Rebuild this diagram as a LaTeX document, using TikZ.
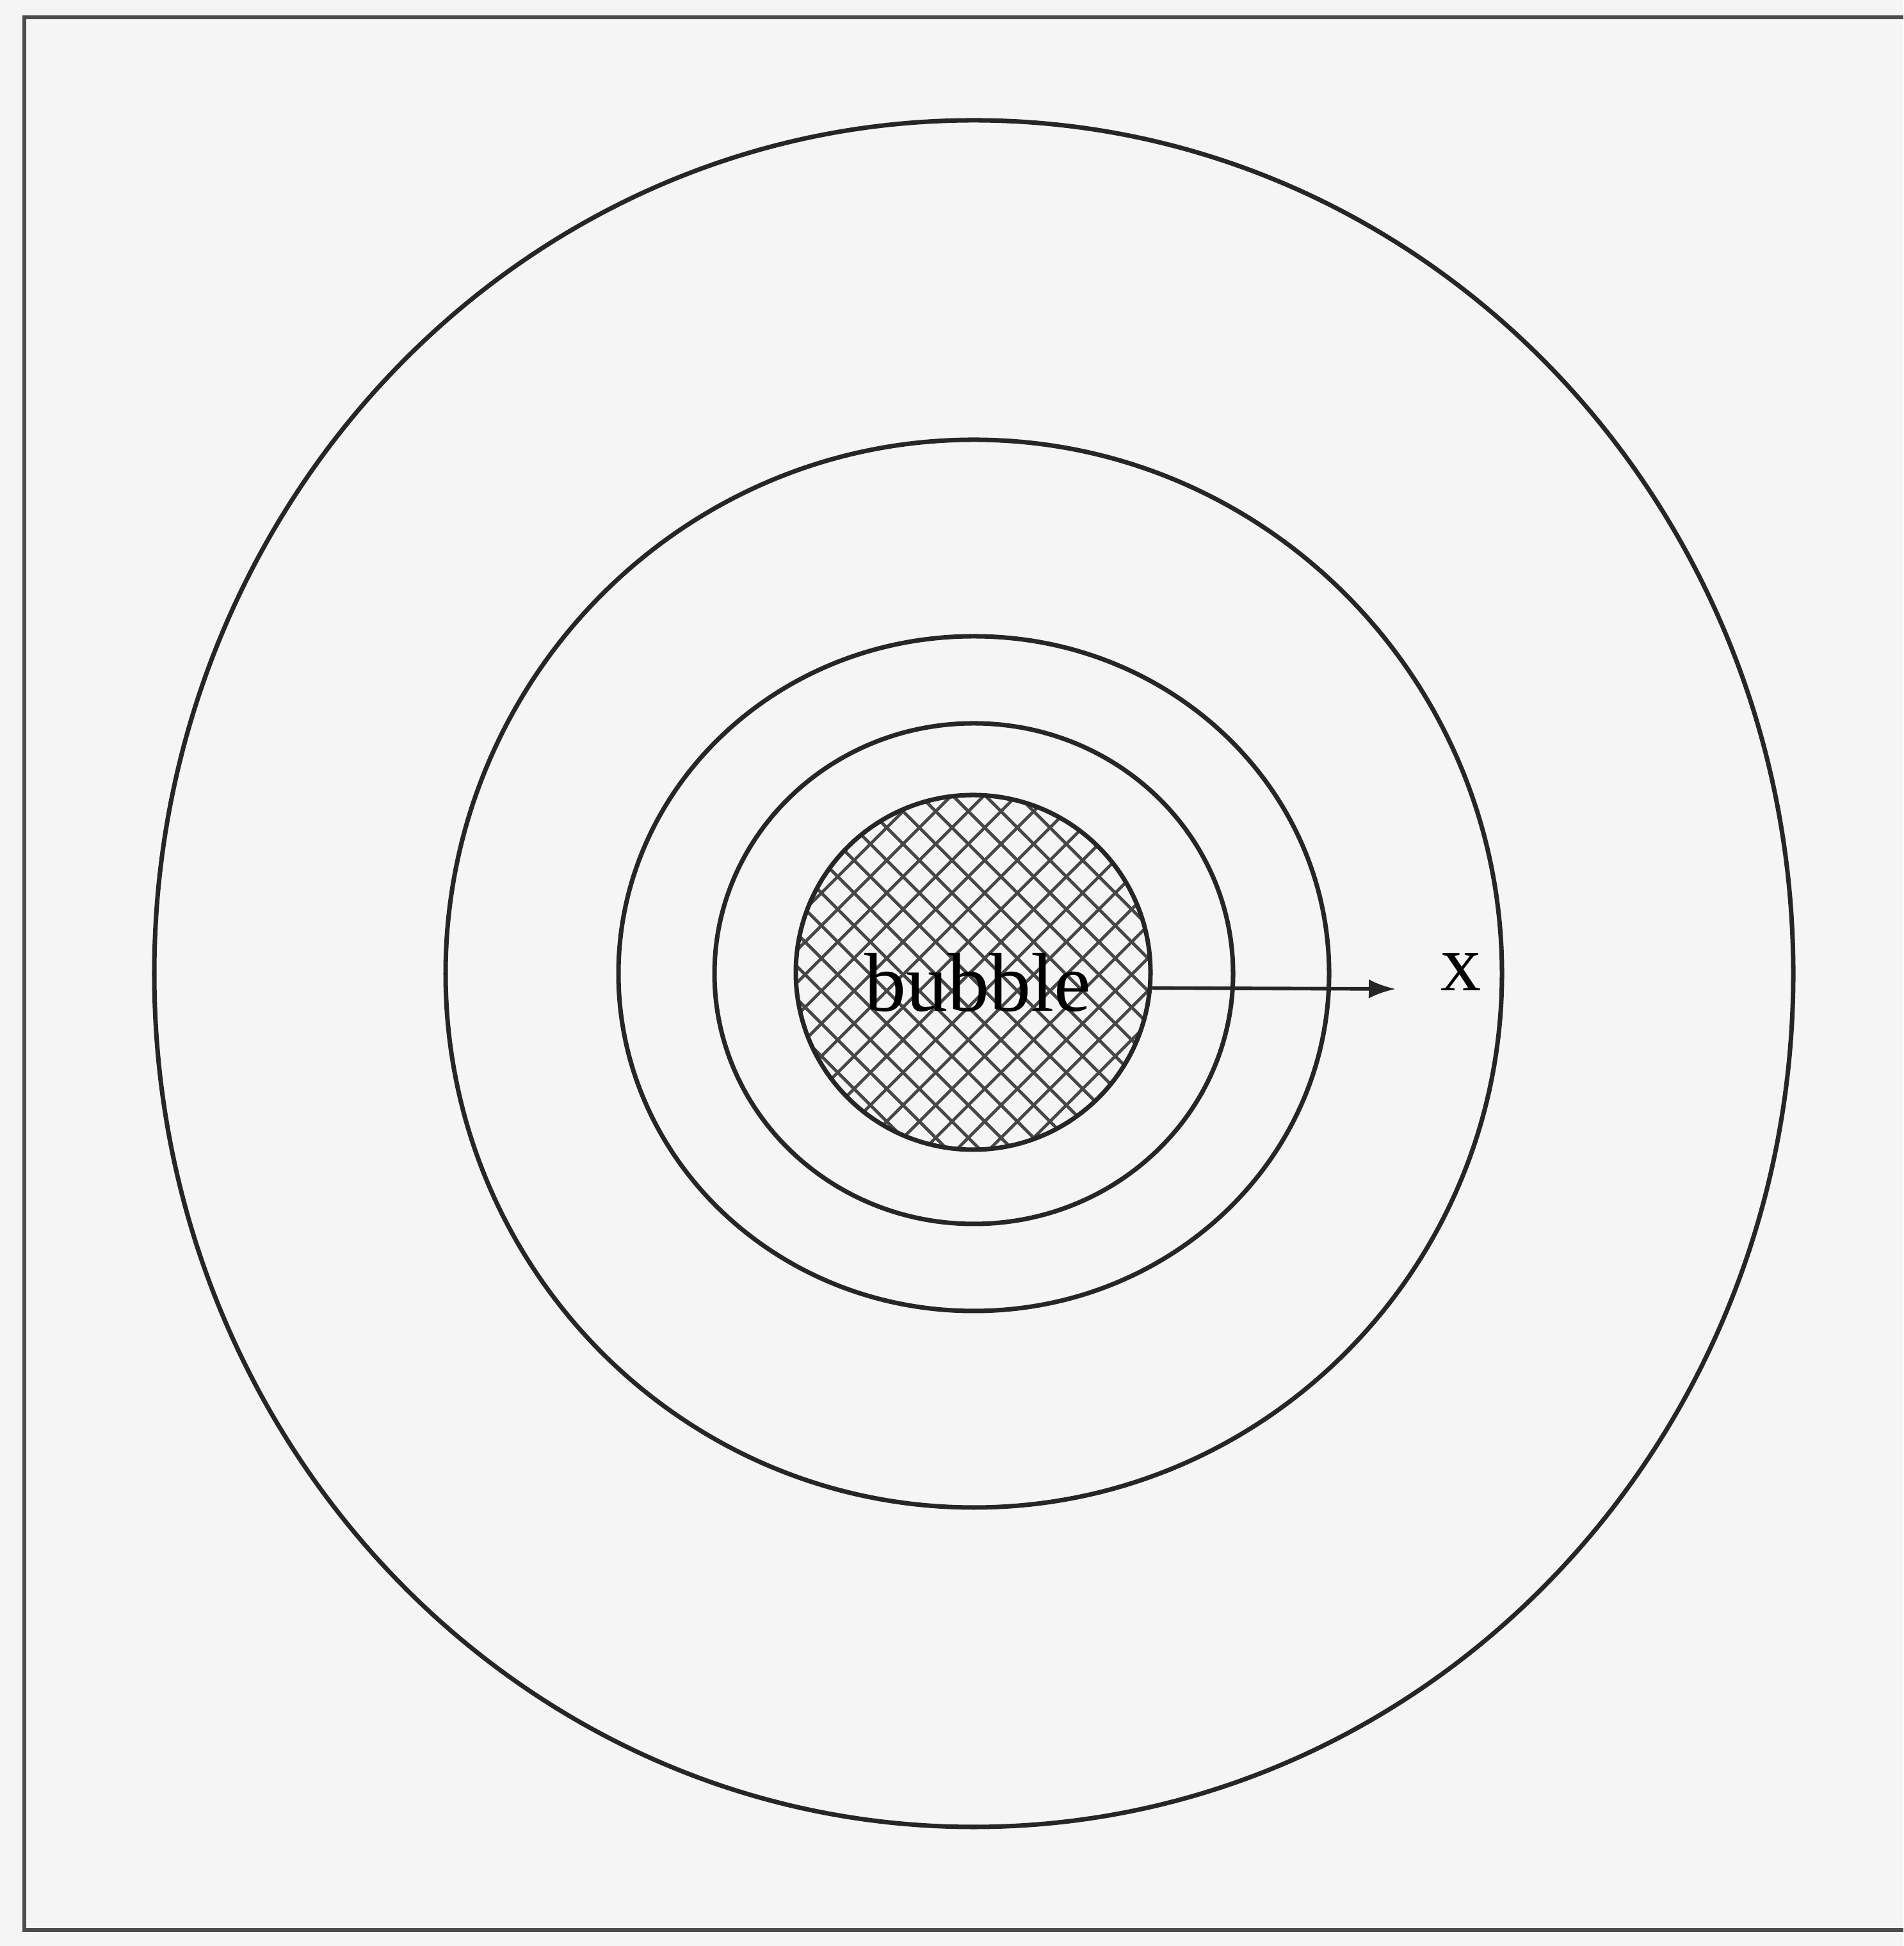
\documentclass[tikz,border=0pt]{standalone}
\usepackage{fontspec}
\setmainfont{Liberation Serif}
\usetikzlibrary{calc,positioning,arrows.meta}

\tikzset{
  ring/.style={draw=black!85, line width=2pt},
  hatchline/.style={draw=black!72, line width=1.4pt},
  bubblenode/.style={circle, draw=black!85, line width=2pt, minimum size=5.54cm,
    inner sep=0pt, font=\fontsize{37}{40}\selectfont},
  labeltext/.style={inner sep=0pt, font=\fontsize{36}{40}\selectfont},
}

\begin{document}
\begin{tikzpicture}
  \fill[black!4] (0,0) rectangle (29.73,30.40);
  \useasboundingbox (0,0) rectangle (29.73,30.40);

  \draw[line width=1.8pt, black!70] (29.73,30.13) -- (0.38,30.13) -- (0.38,0.25) -- (29.73,0.25);

  \coordinate (c) at (15.21,15.19);
  \draw[ring] (c) ellipse [x radius=12.80, y radius=13.33];
  \draw[ring] (c) ellipse [x radius=8.25, y radius=8.34];
  \draw[ring] (c) ellipse [x radius=5.55, y radius=5.27];
  \draw[ring] (c) ellipse [x radius=4.05, y radius=3.91];

  \node[bubblenode,
    path picture={
      \foreach \k in {-9,...,9}{
        \draw[hatchline] ($(path picture bounding box.center)+(\k*0.51-0.04,0)+(-4,-4)$) -- ++(8,8);
        \draw[hatchline] ($(path picture bounding box.center)+(\k*0.51-0.11,0)+(-4,4)$) -- ++(8,-8);
      }
    }] (bubble) at (15.20,15.21) {};
  \node[font=\fontsize{37}{40}\selectfont, inner sep=0pt, anchor=base] (bubbletext) at (15.27,14.60) {bubble};

  \coordinate (tip) at (21.80,14.95);
  \draw[line width=1.6pt, black!85, -{Latex[length=0.42cm, width=0.30cm]}] (bubble.-5) -- (tip);
  \node[labeltext, anchor=base west] (xlab) at (22.50,14.92) {x};
\end{tikzpicture}
\end{document}
